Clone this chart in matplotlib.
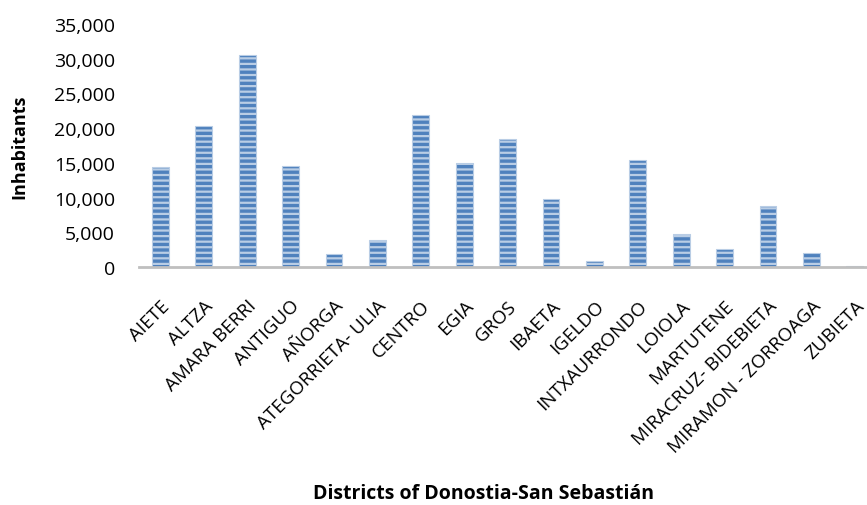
import matplotlib.pyplot as plt
from matplotlib.transforms import ScaledTranslation

districts = ["AIETE", "ALTZA", "AMARA BERRI", "ANTIGUO", "AÑORGA",
             "ATEGORRIETA- ULIA", "CENTRO", "EGIA", "GROS", "IBAETA",
             "IGELDO", "INTXAURRONDO", "LOIOLA", "MARTUTENE",
             "MIRACRUZ- BIDEBIETA", "MIRAMON - ZORROAGA", "ZUBIETA"]
inhabitants = [14400, 20300, 30500, 14550, 1900, 3900, 21900, 15000, 18500,
               9800, 900, 15400, 4700, 2550, 8800, 2000, 150]

plt.rcParams["font.family"] = ["Open Sans", "DejaVu Sans"]
plt.rcParams["hatch.linewidth"] = 1.6

fig = plt.figure(figsize=(8.67, 5.06), dpi=100)
ax = fig.add_axes([0.160, 0.470, 0.851, 0.481])

x = range(len(districts))
ax.bar(x, inhabitants, width=0.39, color="#4f81bd", edgecolor="#b9cde5",
       linewidth=0.8, hatch="---")

ax.set_xlim(-0.5, len(districts) - 0.5)
ax.set_ylim(0, 35000)
ax.set_yticks(range(0, 35001, 5000))
ax.set_yticklabels(["{:,}".format(v) for v in range(0, 35001, 5000)], fontsize=14)
ax.set_xticks(list(x))
ax.set_xticklabels(districts, rotation=45, ha="right", va="top",
                   rotation_mode="anchor", fontsize=13.5)
# nudge the rotated labels a little to the left
shift = ScaledTranslation(-4 / 100, 0, fig.dpi_scale_trans)
for lbl in ax.get_xticklabels():
    lbl.set_transform(lbl.get_transform() + shift)

for side in ["left", "right", "top"]:
    ax.spines[side].set_visible(False)
ax.spines["bottom"].set_color("#bfbfbf")
ax.spines["bottom"].set_linewidth(2)
ax.tick_params(axis="y", length=0, pad=17)
ax.tick_params(axis="x", length=0, pad=21)

fig.text(0.022, 0.709, "Inhabitants", fontsize=13, fontweight="bold",
         rotation=90, ha="center", va="center")
fig.text(0.558, 0.024, "Districts of Donostia-San Sebastián", fontsize=14,
         fontweight="bold", ha="center", va="center")

fig.savefig("out.png", dpi=100)
